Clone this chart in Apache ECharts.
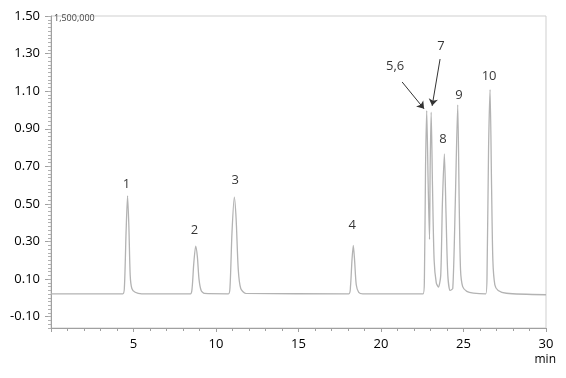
<!DOCTYPE html>
<html>
<head>
<meta charset="UTF-8">
<title>Chromatogram</title>
<script src="https://cdn.jsdelivr.net/npm/echarts@6/dist/echarts.min.js"></script>
<style>
  html, body { margin: 0; padding: 0; background: #fff; }
</style>
</head>
<body>
<div id="chart" style="width:566px;height:378px"></div>
<script>
// retention time (min) and signal (x1,000,000)
const rt = [
  0, 4.35, 4.45, 4.55, 4.64, 4.72, 4.8, 4.9, 5.1, 5.5,
  8.45, 8.55, 8.65, 8.77, 8.87, 8.97, 9.1, 9.3,
  10.75, 10.85, 10.97, 11.11, 11.22, 11.35, 11.5, 11.8,
  18.05, 18.15, 18.24, 18.32, 18.4, 18.5, 18.65, 18.9,
  22.55, 22.63, 22.7, 22.77, 22.86, 22.94, 22.98, 23.04, 23.12, 23.22, 23.35, 23.48,
  23.62, 23.72, 23.84, 23.94, 24.05, 24.19, 24.35, 24.5, 24.65, 24.74, 24.82, 24.95,
  25.2, 25.6, 26.35, 26.43, 26.52, 26.61, 26.7, 26.78, 26.9, 27.1, 27.6, 30
];
const signal = [
  0.022, 0.022, 0.06, 0.35, 0.543, 0.38, 0.12, 0.05, 0.03, 0.022,
  0.022, 0.05, 0.18, 0.276, 0.22, 0.1, 0.04, 0.024,
  0.022, 0.06, 0.35, 0.536, 0.42, 0.15, 0.05, 0.024,
  0.022, 0.06, 0.2, 0.28, 0.2, 0.07, 0.03, 0.022,
  0.022, 0.1, 0.7, 0.997, 0.6, 0.311, 0.7, 0.988, 0.6, 0.2, 0.08, 0.058,
  0.12, 0.5, 0.766, 0.45, 0.12, 0.04, 0.05, 0.5, 1.027, 0.5, 0.15, 0.06,
  0.035, 0.026, 0.022, 0.15, 0.8, 1.108, 0.6, 0.2, 0.07, 0.04, 0.025, 0.017
];

// peak numbers and where they are written
const peakNames = ['1', '2', '3', '4', '5,6', '7', '8', '9', '10'];
const peakLabelX = [4.58, 8.69, 11.17, 18.25, 20.86, 23.64, 23.76, 24.73, 26.55];
const peakLabelY = [0.607, 0.362, 0.628, 0.389, 1.234, 1.34, 0.846, 1.08, 1.181];

// arrows: [fromX, fromY, toX, toY]
const arrows = [
  [21.28, 1.149, 22.61, 1.006],
  [23.58, 1.271, 23.10, 1.022]
];

const yTickLabels = [-0.10, 0.10, 0.30, 0.50, 0.70, 0.90, 1.10, 1.30, 1.50];

const yMin = -0.16, yMax = 1.5;

const font = '"Open Sans", sans-serif';
const axisGrey = '#a0a0a0';
const textColor = '#000';
const chart = echarts.init(document.getElementById('chart'));

chart.setOption({
  animation: false,
  grid: {
    left: 51, right: 20, top: 16, bottom: 50,
    show: true, borderColor: '#cfcfcf', borderWidth: 1
  },
  xAxis: {
    type: 'value', min: 0, max: 30, interval: 5,
    axisLine: { onZero: false, lineStyle: { color: axisGrey } },
    axisTick: { show: true, length: 4, lineStyle: { color: axisGrey } },
    minorTick: { show: true, splitNumber: 5, length: 3, lineStyle: { color: axisGrey } },
    splitLine: { show: false },
    axisLabel: {
      showMinLabel: false, color: textColor, fontSize: 13, fontFamily: font, margin: 10
    }
  },
  yAxis: [
    {
      type: 'value', min: yMin, max: yMax,
      axisLine: { show: true, onZero: false, lineStyle: { color: axisGrey } },
      axisTick: { show: true, length: 6, customValues: yTickLabels, lineStyle: { color: axisGrey } },
      splitLine: { show: false },
      axisLabel: {
        customValues: yTickLabels,
        formatter: v => v.toFixed(2),
        color: textColor, fontSize: 13, fontFamily: font, margin: 11
      }
    },
    {
      // minor ticks only
      type: 'value', min: yMin, max: yMax, interval: 0.02, position: 'left',
      axisLine: { show: false, onZero: false },
      axisTick: { show: true, length: 3, lineStyle: { color: '#b0b0b0' } },
      axisLabel: { show: false },
      splitLine: { show: false }
    }
  ],
  graphic: [
    { type: 'text', left: 54, top: 14,
      style: { text: '1,500,000', fontSize: 9, fill: '#444', fontFamily: font } },
    { type: 'text', right: 10, top: 354,
      style: { text: 'min', fontSize: 12, fill: textColor, fontFamily: font } }
  ],
  series: [
    {
      type: 'line',
      data: rt.map((t, i) => [t, signal[i]]),
      showSymbol: false,
      smooth: 0.25,
      lineStyle: { color: '#b3b3b3', width: 1.3 },
      markLine: {
        silent: true,
        symbol: ['none', 'arrow'],
        symbolSize: 7,
        lineStyle: { color: '#333', width: 1, type: 'solid' },
        label: { show: false },
        data: arrows.map(a => [{ coord: [a[0], a[1]] }, { coord: [a[2], a[3]] }])
      }
    },
    {
      type: 'scatter',
      symbolSize: 0,
      data: peakNames.map((n, i) => [peakLabelX[i], peakLabelY[i], n]),
      label: {
        show: true, position: 'inside',
        formatter: p => p.data[2],
        color: textColor, fontSize: 13, fontFamily: font
      }
    }
  ]
});
</script>
</body>
</html>
